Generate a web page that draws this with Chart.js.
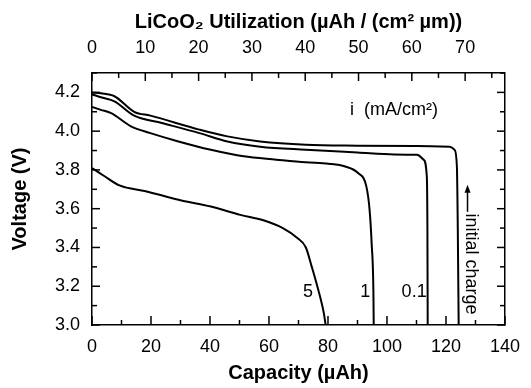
<!DOCTYPE html>
<html>
<head>
<meta charset="utf-8">
<script src="https://cdn.jsdelivr.net/npm/chart.js@4/dist/chart.umd.min.js"></script>
<style>
  body { margin: 0; background: #fff; }
</style>
</head>
<body>
<canvas id="capChart" width="531" height="388"></canvas>
<script>
// capacity (µAh) / voltage (V)
const cap5   = [0, 4, 9.3, 18.2, 29.3, 40.3, 50.3, 58.1, 64.7, 69.5, 72.5, 74.5, 76.4, 78.6, 79.2];
const volt5  = [3.81, 3.77, 3.72, 3.69, 3.646, 3.611, 3.568, 3.54, 3.50, 3.45, 3.40, 3.30, 3.198, 3.06, 3.0];

const cap1   = [0, 3, 6.5, 13.2, 19.8, 29.3, 40.3, 51.4, 62.5, 72.5, 80.2, 85.8, 90.2, 93, 94.1, 94.8, 95.4, 95.5];
const volt1  = [4.125, 4.11, 4.093, 4.025, 3.99, 3.947, 3.904, 3.87, 3.853, 3.839, 3.832, 3.818, 3.784, 3.715, 3.594, 3.42, 3.165, 3.0];

const cap01  = [0, 3, 7.6, 14.3, 23.7, 36.4, 45.9, 57, 72.5, 90, 102.4, 110.2, 112.4, 113.5, 113.7, 113.8];
const volt01 = [4.19, 4.175, 4.154, 4.08, 4.042, 3.99, 3.947, 3.92, 3.904, 3.89, 3.88, 3.878, 3.853, 3.766, 3.508, 3.0];

const capInit  = [0, 3, 7.6, 14.3, 19.8, 36.4, 45.9, 57, 72.5, 90, 110, 121.3, 122.9, 123.7, 124, 124.3];
const voltInit = [4.20, 4.195, 4.18, 4.10, 4.08, 4.008, 3.973, 3.947, 3.93, 3.925, 3.923, 3.92, 3.904, 3.818, 3.5, 3.0];

const xTicks  = [0, 20, 40, 60, 80, 100, 120, 140];
const x2Ticks = [0, 10, 20, 30, 40, 50, 60, 70];
const yTicks  = [3.0, 3.2, 3.4, 3.6, 3.8, 4.0, 4.2];

// µAh per (cm² µm) -> capacity factor for the top axis
const utilFactor = 1.807;

const toPoints = (xs, ys) => xs.map((x, i) => ({x: x, y: ys[i]}));

const curve = (pts) => ({
    data: pts,
    borderColor: '#000',
    borderWidth: 2,
    pointRadius: 0,
    fill: false,
    cubicInterpolationMode: 'monotone'
});

const FONT = '"Liberation Sans", Arial, sans-serif';

// inward ticks on all four sides plus the in-plot labels
const frameDecor = {
    id: 'frameDecor',
    afterDatasetsDraw(chart) {
        const {ctx, chartArea: a, scales} = chart;
        ctx.save();
        ctx.strokeStyle = '#000';
        ctx.lineWidth = 1.5;

        const vLine = (x, y0, y1) => { ctx.beginPath(); ctx.moveTo(x, y0); ctx.lineTo(x, y1); ctx.stroke(); };
        const hLine = (y, x0, x1) => { ctx.beginPath(); ctx.moveTo(x0, y); ctx.lineTo(x1, y); ctx.stroke(); };

        for (let v = 0; v <= 140; v += 10) {
            const x = scales.x.getPixelForValue(v);
            const len = v % 20 === 0 ? 9 : 5;
            vLine(x, a.bottom, a.bottom - len);
        }
        for (let v = 0; v <= 75; v += 5) {
            const x = scales.x2.getPixelForValue(v);
            const len = v % 10 === 0 ? 8 : 5;
            vLine(x, a.top, a.top + len);
        }
        for (let i = 0; i <= 13; i++) {
            const v = 3.0 + i * 0.1;
            const y = scales.y.getPixelForValue(v);
            const len = i % 2 === 0 ? 8 : 5;
            hLine(y, a.left, a.left + len);
            hLine(y, a.right, a.right - len);
        }

        ctx.fillStyle = '#000';
        ctx.font = '18px ' + FONT;
        ctx.textAlign = 'center';
        ctx.textBaseline = 'middle';
        const px = (x, y) => [scales.x.getPixelForValue(x), scales.y.getPixelForValue(y)];

        let [lx, ly] = px(102.4, 4.11);
        ctx.fillText('i  (mA/cm²)', lx, ly);
        [lx, ly] = px(73.2, 3.17);
        ctx.fillText('5', lx, ly);
        [lx, ly] = px(92.6, 3.17);
        ctx.fillText('1', lx, ly);
        [lx, ly] = px(109.2, 3.17);
        ctx.fillText('0.1', lx, ly);

        // "initial charge" rotated, with arrow pointing up
        [lx, ly] = px(128.3, 3.315);
        ctx.save();
        ctx.translate(lx, ly);
        ctx.rotate(Math.PI / 2);
        ctx.fillText('initial charge', 0, 0);
        ctx.restore();

        const [ax, ay0] = px(127.3, 3.584);
        const ay1 = scales.y.getPixelForValue(3.723);
        vLine(ax, ay0, ay1 + 4);
        ctx.beginPath();
        ctx.moveTo(ax, ay1);
        ctx.lineTo(ax - 3, ay1 + 8);
        ctx.lineTo(ax + 3, ay1 + 8);
        ctx.closePath();
        ctx.fill();

        ctx.restore();
    }
};

const border = {display: true, color: '#000', width: 1.5};

new Chart(document.getElementById('capChart').getContext('2d'), {
    type: 'line',
    data: {
        datasets: [
            curve(toPoints(capInit, voltInit)),
            curve(toPoints(cap01, volt01)),
            curve(toPoints(cap1, volt1)),
            curve(toPoints(cap5, volt5))
        ]
    },
    options: {
        responsive: false,
        animation: false,
        layout: {padding: 0},
        plugins: {
            legend: {display: false},
            tooltip: {enabled: false}
        },
        scales: {
            x: {
                type: 'linear',
                position: 'bottom',
                min: 0,
                max: 140,
                afterBuildTicks: s => { s.ticks = xTicks.map(v => ({value: v})); },
                afterFit: s => { s.height = 63; },
                grid: {display: false, drawTicks: false},
                border: border,
                ticks: {color: '#000', padding: 11, font: {family: FONT, size: 18}},
                title: {
                    display: true,
                    text: 'Capacity (µAh)',
                    color: '#000',
                    font: {family: FONT, size: 20, weight: 'bold'},
                    padding: {top: 4, bottom: 3}
                }
            },
            x2: {
                type: 'linear',
                position: 'top',
                min: 0,
                max: 140 / utilFactor,
                afterBuildTicks: s => { s.ticks = x2Ticks.map(v => ({value: v})); },
                afterFit: s => { s.height = 73; },
                grid: {display: false, drawTicks: false},
                border: border,
                ticks: {color: '#000', padding: 14, font: {family: FONT, size: 18}},
                title: {
                    display: true,
                    text: 'LiCoO₂ Utilization (µAh / (cm² µm))',
                    color: '#000',
                    font: {family: FONT, size: 20, weight: 'bold'},
                    padding: {top: 10, bottom: 4}
                }
            },
            y: {
                type: 'linear',
                position: 'left',
                min: 3.0,
                max: 4.3,
                afterBuildTicks: s => { s.ticks = yTicks.map(v => ({value: v})); },
                afterFit: s => { s.width = 92; },
                grid: {display: false, drawTicks: false},
                border: border,
                ticks: {
                    color: '#000',
                    padding: 12,
                    font: {family: FONT, size: 18},
                    callback: v => v.toFixed(1)
                },
                title: {
                    display: true,
                    text: 'Voltage (V)',
                    color: '#000',
                    font: {family: FONT, size: 20, weight: 'bold'},
                    padding: {top: 8, bottom: 4}
                }
            },
            y2: {
                type: 'linear',
                position: 'right',
                min: 3.0,
                max: 4.3,
                afterFit: s => { s.width = 18; },
                grid: {display: false, drawTicks: false},
                border: border,
                ticks: {display: false}
            }
        }
    },
    plugins: [frameDecor]
});
</script>
</body>
</html>
